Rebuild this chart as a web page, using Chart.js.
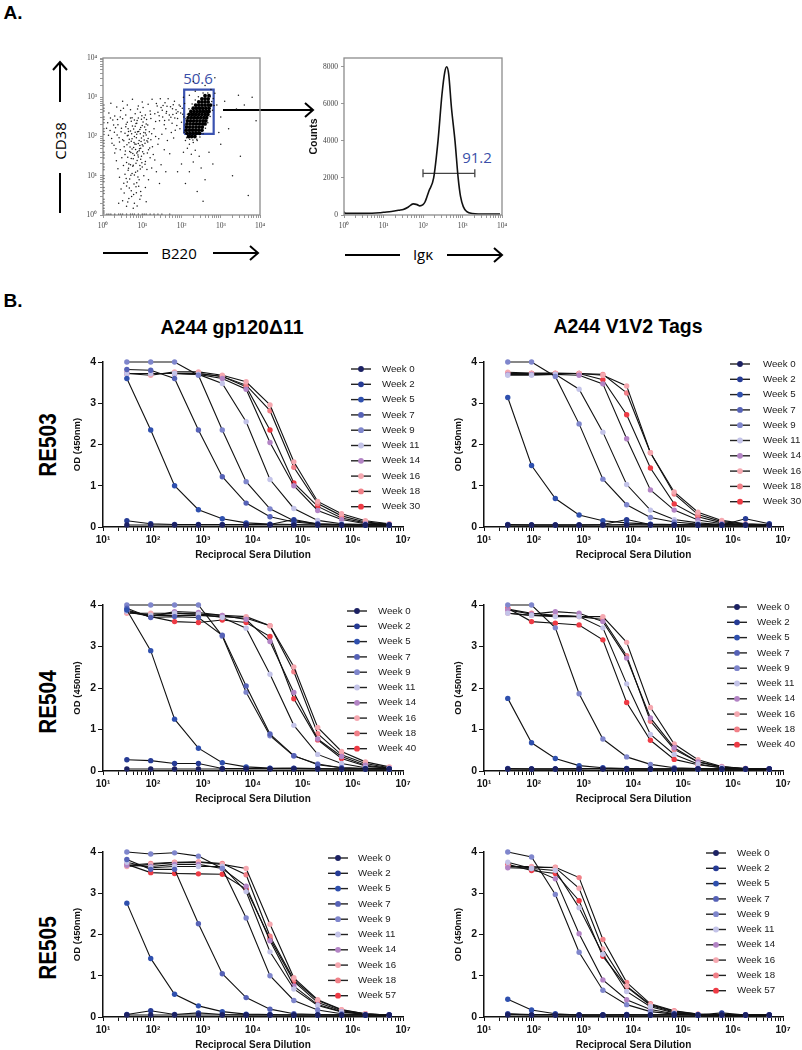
<!DOCTYPE html>
<html lang="en">
<head>
<meta charset="UTF-8" />
<title>Figure: B cell sorting and serum ELISA titers</title>
<script src="https://cdn.jsdelivr.net/npm/chart.js"></script>
<style>
  body { margin: 0; background: #fff; font-family: "Liberation Sans", Arial, sans-serif; }
  #page { position: relative; width: 802px; height: 1050px; overflow: hidden; }
  canvas { position: absolute; }
  .c { position: absolute; white-space: nowrap; transform: translate(-50%, -50%); line-height: 1; }
  .panel { font-weight: bold; font-size: 19px; }
  .title { font-weight: bold; font-size: 19.5px; }
  .row { font-weight: bold; font-size: 23px; transform: translate(-50%, -50%) rotate(-90deg) scaleX(0.9); }
  .axis { font-family: "Open Sans", "Liberation Sans", sans-serif; font-size: 15px; }
  .gate { font-family: "Open Sans", "Liberation Sans", sans-serif; font-size: 15px; color: #3a4fa8; }
  svg { position: absolute; left: 0; top: 0; }
</style>
</head>
<body>
<div id="page">
  <div class="c panel" style="left:13px;top:12px">A.</div>
  <div class="c panel" style="left:13px;top:300px">B.</div>

  <div class="c axis" style="left:60px;top:141px;transform:translate(-50%,-50%) rotate(-90deg)">CD38</div>
  <div class="c axis" style="left:179px;top:253px">B220</div>
  <div class="c axis" style="left:423px;top:254px">Igκ</div>
  <div class="c gate" style="left:198px;top:78px">50.6</div>
  <div class="c gate" style="left:477px;top:157px">91.2</div>

  <div class="c title" style="left:232px;top:328px">A244 gp120Δ11</div>
  <div class="c title" style="left:628px;top:327px">A244 V1V2 Tags</div>

  <div class="c row" style="left:48px;top:445px">RE503</div>
  <div class="c row" style="left:48px;top:702px">RE504</div>
  <div class="c row" style="left:48px;top:948px">RE505</div>

  <svg width="802" height="300" fill="none" stroke="#000" stroke-width="2">
    <path d="M60 102 V62 M53 70 L60 62 L67 70" />
    <path d="M60 173 V213" />
    <path d="M103 253 H148" />
    <path d="M213 253 H258 M250 246 L258 253 L250 260" />
    <path d="M223 110 H313 M305 103 L313 110 L305 117" />
    <path d="M345 255 H400" />
    <path d="M447 255 H502 M494 248 L502 255 L494 262" />
  </svg>

  <canvas id="flowDot"></canvas>
  <canvas id="flowHist"></canvas>
  <canvas id="c503g"></canvas>
  <canvas id="c503v"></canvas>
  <canvas id="c504g"></canvas>
  <canvas id="c504v"></canvas>
  <canvas id="c505g"></canvas>
  <canvas id="c505v"></canvas>
</div>

<script>
// ---------- panel A: flow cytometry (values in log10 units) ----------
// scattered events, [log10 B220, log10 CD38]
const dotLog = [
  [0.2,2.85],[0.5,2.9],[0.75,2.95],[1.0,2.88],[1.25,2.95],[0.35,2.75],[0.62,2.8],[0.9,2.78],[1.15,2.82],[1.38,2.78],
  [0.15,2.6],[0.3,2.52],[0.45,2.66],[0.58,2.55],[0.7,2.68],[0.82,2.58],[0.95,2.62],[1.08,2.55],[1.2,2.65],[1.32,2.58],[0.52,2.72],[0.88,2.7],[1.02,2.74],
  [0.12,2.35],[0.25,2.42],[0.38,2.3],[0.5,2.45],[0.62,2.36],[0.74,2.48],[0.86,2.34],[0.98,2.44],[1.1,2.32],[1.22,2.46],[1.34,2.38],[0.44,2.5],[0.8,2.42],[1.05,2.48],
  [0.18,2.15],[0.32,2.22],[0.46,2.12],[0.58,2.25],[0.7,2.14],[0.82,2.26],[0.94,2.18],[1.06,2.24],[1.18,2.12],[1.3,2.2],[0.64,2.2],[0.88,2.12],[1.0,2.28],
  [0.22,1.95],[0.36,2.04],[0.5,1.92],[0.62,2.02],[0.74,1.94],[0.86,2.06],[0.98,1.96],[1.1,2.04],[1.22,1.92],[0.56,2.08],[0.8,2.0],[0.92,1.9],[1.04,2.1],[1.34,2.0],
  [0.28,1.78],[0.42,1.86],[0.54,1.74],[0.66,1.84],[0.78,1.72],[0.9,1.82],[1.02,1.76],[1.14,1.86],[1.26,1.74],[0.72,1.88],[0.84,1.8],[0.96,1.7],[1.4,1.8],
  [0.3,1.58],[0.44,1.66],[0.56,1.54],[0.68,1.62],[0.8,1.52],[0.92,1.64],[1.04,1.56],[1.16,1.66],[1.28,1.54],[0.74,1.68],[0.86,1.58],[0.98,1.5],
  [0.34,1.38],[0.48,1.46],[0.6,1.34],[0.72,1.44],[0.84,1.32],[0.96,1.42],[1.08,1.36],[1.2,1.46],[0.66,1.3],[0.9,1.48],[1.32,1.4],
  [0.38,1.18],[0.52,1.26],[0.64,1.14],[0.76,1.24],[0.88,1.12],[1.0,1.22],[1.12,1.16],[0.7,1.28],[0.94,1.26],[1.24,1.2],
  [0.42,0.96],[0.56,1.04],[0.68,0.92],[0.8,1.02],[0.92,0.9],[1.04,1.0],[0.62,0.84],[0.86,0.82],[1.16,0.9],[0.74,1.06],
  [0.46,0.66],[0.6,0.74],[0.72,0.62],[0.84,0.72],[0.96,0.6],[0.78,0.52],[1.08,0.7],[0.54,0.56],
  [0.5,0.36],[0.66,0.42],[0.8,0.3],[0.94,0.4],[0.6,0.22],[1.1,0.34],[0.4,0.3],
  [0.63,1.47],[0.71,1.59],[0.77,1.43],[0.83,1.67],[0.89,1.53],[0.94,1.77],[1.01,1.61],[1.07,1.83],[1.13,1.58],[1.19,1.71],
  [0.61,1.79],[0.67,1.93],[0.73,2.07],[0.79,1.85],[0.85,1.97],[0.91,2.13],[0.97,1.87],[1.03,2.01],[1.09,2.17],[1.15,1.95],
  [0.59,2.31],[0.65,2.13],[0.72,2.39],[0.78,2.19],[0.84,2.33],[0.9,2.47],[0.96,2.23],[1.02,2.37],[1.08,2.09],[1.14,2.29],
  [0.57,1.63],[0.69,1.73],[0.81,1.81],[0.93,1.69],[1.05,1.91],[0.75,2.27],[0.87,2.41],[0.99,2.53],[1.11,2.43],[1.21,2.57],
  [0.53,1.89],[0.64,2.03],[0.76,1.57],[0.88,1.61],[1.0,1.79],[1.12,1.89],[1.24,2.07],[0.7,2.47],[0.82,2.11],[0.95,2.07],
  [0.47,2.21],[0.41,1.97],[0.37,2.43],[0.29,2.11],[0.23,1.83],[0.33,1.69],[0.27,2.29],[0.19,2.47],[0.14,2.03],[0.09,2.21],
  [0.99,1.33],[0.87,1.39],[0.77,1.27],[0.65,1.19],[0.83,1.09],[0.95,1.17],[1.07,1.29],[0.71,1.01],[0.59,0.93],[0.89,0.97],
  [0.79,0.79],[0.67,0.69],[0.91,0.73],[0.53,0.81],[0.85,0.57],[0.73,0.47],[0.97,0.49],[0.63,0.33],[0.77,0.17],[0.87,0.23],
  [1.4,2.62],[1.48,2.74],[1.52,2.5],[1.58,2.86],[1.62,2.64],[1.68,2.42],[1.72,2.76],[1.78,2.56],[1.82,2.9],[1.86,2.68],
  [1.9,2.46],[1.94,2.8],[1.98,2.6],[2.02,2.72],[2.06,2.5],[1.44,2.4],[1.56,2.3],[1.66,2.96],[1.76,2.34],[1.88,2.28],
  [2.0,2.36],[1.46,2.96],[1.36,2.84],[1.6,2.2],[1.74,2.1],[1.84,2.16],[1.96,2.2],[2.08,2.84],[1.5,2.06],[1.42,1.94],
  [1.64,1.9],[1.8,1.96],[1.56,1.66],[1.7,1.56],[1.48,1.28],[1.6,1.1],[1.36,1.1],[1.44,0.8],
  [1.43,2.53],[1.51,2.67],[1.57,2.41],[1.63,2.77],[1.69,2.55],[1.77,2.71],[1.83,2.47],[1.91,2.63],[1.97,2.77],[2.03,2.57],
  [1.61,2.59],[1.73,2.49],[1.87,2.59],[1.53,2.79],[1.79,2.81],
  [2.07,2.11],[2.09,2.29],[2.11,2.45],[2.15,2.57],[2.19,2.71],[2.27,2.83],[2.35,2.93],[2.43,3.01],[2.55,3.11],[2.67,3.11],
  [2.73,3.01],[2.77,2.89],[2.79,2.67],[2.73,2.51],[2.67,2.35],[2.61,2.21],[2.55,2.07],[2.47,1.99],[2.39,1.93],[2.29,1.91],
  [2.21,1.93],[2.13,1.97],[2.83,2.79],[2.81,2.97],
  [2.1,1.9],[2.2,1.8],[2.3,1.85],[2.15,1.7],[2.35,1.65],[2.25,1.55],[2.4,1.9],[2.05,1.6],[2.45,1.5],[2.3,1.35],
  [2.5,1.2],[2.2,1.1],[2.6,0.9],[2.4,0.6],[2.7,1.6],[2.8,1.3],[2.0,1.3],[1.9,1.1],[2.1,0.8],[2.55,0.35],
  [2.9,2.8],[3.0,2.5],[3.1,2.9],[3.2,2.2],[3.4,2.7],[3.6,2.8],[3.8,3.0],[3.5,1.5],[3.3,1.0],[3.7,0.5],
  [3.0,1.8],[2.85,3.1],[3.9,2.4],[3.45,3.05],[2.95,2.1],[2.2,3.05],[2.35,3.15],[2.45,3.6],[2.6,3.3],[2.75,3.2],
  [2.85,3.5],[2.3,3.4],[2.05,3.0],
  [0.02,0.1],[0.02,0.25],[0.02,0.4],[0.02,0.55],[0.02,0.7],[0.02,0.85],[0.02,1.0],[0.02,1.15],[0.02,1.3],[0.02,1.45],
  [0.02,1.6],[0.02,1.75],[0.02,1.9],[0.02,2.05],[0.02,2.2],[0.02,2.35],[0.02,2.5],[0.02,2.65],[0.02,2.8],[0.02,0.05],
  [0.02,0.17],[0.02,0.33],[0.02,0.62],[0.02,0.93],[0.02,1.22],[0.02,1.53],[0.02,1.83],[0.02,2.13],[0.02,2.43],[0.02,2.72],
  [0.1,0.02],[0.2,0.02],[0.3,0.02],[0.4,0.02],[0.5,0.02],[0.6,0.02],[0.7,0.02],[0.8,0.02],[0.9,0.02],[1.0,0.02],
  [1.1,0.02],[1.2,0.02],[1.3,0.02],[1.4,0.02],[1.5,0.02],[1.7,0.02],[0.15,0.02],[0.45,0.02],[0.75,0.02],[1.05,0.02]
];
// dense B220+ CD38+ population inside the gate
const blobLog = [
  [2.18,2.0],[2.26,2.0],[2.34,2.0],
  [2.14,2.08],[2.22,2.08],[2.3,2.08],[2.38,2.08],[2.46,2.08],
  [2.12,2.16],[2.2,2.16],[2.28,2.16],[2.36,2.16],[2.44,2.16],[2.52,2.16],
  [2.13,2.24],[2.21,2.24],[2.29,2.24],[2.37,2.24],[2.45,2.24],[2.53,2.24],
  [2.14,2.32],[2.22,2.32],[2.3,2.32],[2.38,2.32],[2.46,2.32],[2.54,2.32],[2.6,2.32],
  [2.15,2.4],[2.23,2.4],[2.31,2.4],[2.39,2.4],[2.47,2.4],[2.55,2.4],[2.62,2.4],
  [2.17,2.48],[2.25,2.48],[2.33,2.48],[2.41,2.48],[2.49,2.48],[2.57,2.48],[2.64,2.48],
  [2.2,2.56],[2.28,2.56],[2.36,2.56],[2.44,2.56],[2.52,2.56],[2.6,2.56],[2.67,2.56],
  [2.24,2.64],[2.32,2.64],[2.4,2.64],[2.48,2.64],[2.56,2.64],[2.64,2.64],[2.7,2.64],
  [2.3,2.72],[2.38,2.72],[2.46,2.72],[2.54,2.72],[2.62,2.72],[2.7,2.72],
  [2.36,2.8],[2.44,2.8],[2.52,2.8],[2.6,2.8],[2.68,2.8],[2.74,2.8],
  [2.44,2.88],[2.52,2.88],[2.6,2.88],[2.68,2.88],
  [2.52,2.96],[2.6,2.96],[2.68,2.96],
  [2.6,3.04],[2.7,3.04]
];
const gateB220 = [117, 660];
const gateCD38 = [117, 1560];

// Igk histogram: log10 Igk and counts
const histIgkLog = [0, 0.03, 0.5, 0.9, 1.0, 1.2, 1.4, 1.5, 1.62, 1.75, 1.85, 1.92, 2.0, 2.05, 2.15, 2.27, 2.38, 2.48, 2.55, 2.6, 2.65, 2.72, 2.81, 2.89, 2.95, 3.02, 3.1, 3.25, 3.6, 3.95];
const histCounts = [180, 90, 90, 120, 145, 190, 260, 300, 420, 600, 560, 490, 560, 700, 1300, 2000, 4000, 6500, 7700, 8000, 7600, 5800, 4000, 2000, 1000, 450, 200, 80, 50, 50];
const barIgk = [100, 2050];
const barCount = 2250;
const histTicks = [0, 2000, 4000, 6000, 8000];

// ---------- panel B: ELISA titration ----------
const dilutions = [30, 90, 270, 810, 2430, 7290, 21870, 65610, 196830, 590490, 1771470, 5314410];
const weekColors = ['#1c2163', '#263b95', '#2f50ae', '#5662b7', '#7f86cc', '#c3c3e8', '#b384c5', '#f5a8b0', '#f18088', '#ee3b45'];
const weeks503 = ['Week 0', 'Week 2', 'Week 5', 'Week 7', 'Week 9', 'Week 11', 'Week 14', 'Week 16', 'Week 18', 'Week 30'];
const weeks504 = ['Week 0', 'Week 2', 'Week 5', 'Week 7', 'Week 9', 'Week 11', 'Week 14', 'Week 16', 'Week 18', 'Week 40'];
const weeks505 = ['Week 0', 'Week 2', 'Week 5', 'Week 7', 'Week 9', 'Week 11', 'Week 14', 'Week 16', 'Week 18', 'Week 57'];

// OD (450nm), one row per week, one value per dilution
const re503Gp120 = [
  [0.05, 0.05, 0.05, 0.05, 0.05, 0.05, 0.05, 0.05, 0.05, 0.05, 0.05, 0.05],
  [0.15, 0.08, 0.06, 0.06, 0.06, 0.06, 0.06, 0.18, 0.07, 0.05, 0.05, 0.05],
  [3.6, 2.35, 1.0, 0.42, 0.2, 0.1, 0.07, 0.06, 0.05, 0.05, 0.05, 0.05],
  [3.82, 3.8, 3.6, 2.35, 1.22, 0.58, 0.25, 0.12, 0.07, 0.06, 0.05, 0.05],
  [4.0, 4.0, 4.0, 3.68, 2.35, 1.1, 0.44, 0.15, 0.08, 0.06, 0.05, 0.05],
  [3.72, 3.72, 3.72, 3.7, 3.48, 2.55, 1.15, 0.45, 0.16, 0.08, 0.06, 0.05],
  [3.72, 3.72, 3.72, 3.7, 3.6, 3.34, 2.05, 1.0, 0.4, 0.18, 0.08, 0.06],
  [3.72, 3.68, 3.76, 3.76, 3.68, 3.52, 2.96, 1.58, 0.62, 0.32, 0.15, 0.08],
  [3.72, 3.72, 3.72, 3.72, 3.65, 3.44, 2.82, 1.45, 0.57, 0.27, 0.12, 0.07],
  [3.72, 3.72, 3.72, 3.72, 3.65, 3.4, 2.35, 1.07, 0.5, 0.22, 0.1, 0.06]
];
const re503V1V2 = [
  [0.05, 0.05, 0.05, 0.05, 0.05, 0.05, 0.05, 0.05, 0.05, 0.05, 0.05, 0.05],
  [0.05, 0.05, 0.05, 0.05, 0.06, 0.18, 0.06, 0.05, 0.05, 0.05, 0.2, 0.08],
  [3.14, 1.49, 0.69, 0.29, 0.15, 0.1, 0.07, 0.06, 0.05, 0.05, 0.05, 0.05],
  [0.06, 0.05, 0.05, 0.05, 0.05, 0.06, 0.05, 0.05, 0.05, 0.05, 0.05, 0.05],
  [4.0, 4.0, 3.65, 2.5, 1.16, 0.54, 0.23, 0.12, 0.07, 0.05, 0.05, 0.05],
  [3.68, 3.68, 3.7, 3.34, 2.3, 1.03, 0.41, 0.18, 0.1, 0.06, 0.05, 0.05],
  [3.7, 3.7, 3.7, 3.68, 3.47, 2.14, 0.9, 0.41, 0.17, 0.08, 0.05, 0.05],
  [3.75, 3.73, 3.73, 3.72, 3.68, 3.42, 1.8, 0.85, 0.36, 0.16, 0.08, 0.06],
  [3.72, 3.72, 3.72, 3.72, 3.7, 3.25, 1.8, 0.8, 0.3, 0.13, 0.07, 0.05],
  [3.72, 3.72, 3.72, 3.72, 3.57, 2.72, 1.43, 0.56, 0.25, 0.1, 0.06, 0.05]
];
const re504Gp120 = [
  [0.05, 0.05, 0.05, 0.05, 0.05, 0.05, 0.05, 0.05, 0.05, 0.05, 0.05, 0.05],
  [0.27, 0.25, 0.18, 0.18, 0.06, 0.06, 0.06, 0.07, 0.06, 0.05, 0.05, 0.05],
  [3.88, 2.9, 1.25, 0.55, 0.2, 0.1, 0.07, 0.06, 0.05, 0.05, 0.05, 0.05],
  [3.92, 3.7, 3.72, 3.7, 3.27, 2.05, 0.89, 0.37, 0.15, 0.08, 0.06, 0.05],
  [4.0, 4.0, 4.0, 4.0, 3.25, 1.9, 0.85, 0.36, 0.17, 0.08, 0.06, 0.05],
  [3.85, 3.75, 3.8, 3.78, 3.7, 3.44, 2.33, 1.1, 0.4, 0.18, 0.08, 0.06],
  [3.85, 3.72, 3.84, 3.82, 3.75, 3.65, 3.12, 1.89, 0.77, 0.35, 0.14, 0.07],
  [3.8, 3.8, 3.8, 3.78, 3.75, 3.72, 3.5, 2.51, 1.05, 0.47, 0.22, 0.1],
  [3.82, 3.75, 3.75, 3.75, 3.72, 3.68, 3.5, 2.39, 0.9, 0.39, 0.18, 0.08],
  [3.88, 3.72, 3.6, 3.58, 3.64, 3.58, 3.24, 1.74, 0.75, 0.3, 0.12, 0.06]
];
const re504V1V2 = [
  [0.05, 0.05, 0.05, 0.05, 0.05, 0.05, 0.05, 0.05, 0.05, 0.05, 0.05, 0.05],
  [0.05, 0.05, 0.05, 0.06, 0.06, 0.05, 0.05, 0.05, 0.05, 0.05, 0.05, 0.05],
  [1.75, 0.68, 0.3, 0.13, 0.08, 0.06, 0.05, 0.05, 0.05, 0.05, 0.05, 0.05],
  [0.06, 0.05, 0.05, 0.05, 0.06, 0.05, 0.05, 0.05, 0.05, 0.05, 0.05, 0.05],
  [4.0, 4.0, 3.45, 1.86, 0.77, 0.34, 0.16, 0.08, 0.06, 0.05, 0.05, 0.05],
  [3.8, 3.75, 3.72, 3.72, 3.45, 2.1, 0.88, 0.4, 0.17, 0.08, 0.05, 0.05],
  [3.88, 3.78, 3.84, 3.8, 3.6, 2.72, 1.28, 0.56, 0.22, 0.1, 0.05, 0.05],
  [3.8, 3.75, 3.75, 3.72, 3.72, 3.1, 1.53, 0.65, 0.27, 0.11, 0.06, 0.05],
  [3.9, 3.8, 3.75, 3.72, 3.65, 2.78, 1.2, 0.52, 0.22, 0.1, 0.06, 0.05],
  [3.92, 3.6, 3.56, 3.52, 3.16, 1.65, 0.74, 0.28, 0.15, 0.08, 0.05, 0.05]
];
const re505Gp120 = [
  [0.05, 0.05, 0.05, 0.05, 0.05, 0.05, 0.05, 0.05, 0.05, 0.05, 0.05, 0.05],
  [0.06, 0.15, 0.06, 0.1, 0.06, 0.05, 0.05, 0.05, 0.05, 0.05, 0.05, 0.05],
  [2.76, 1.42, 0.55, 0.27, 0.13, 0.07, 0.06, 0.05, 0.05, 0.05, 0.05, 0.05],
  [3.82, 3.58, 3.58, 2.26, 1.05, 0.47, 0.19, 0.08, 0.06, 0.05, 0.05, 0.05],
  [4.0, 3.95, 3.98, 3.9, 3.6, 2.4, 1.0, 0.4, 0.17, 0.08, 0.05, 0.05],
  [3.75, 3.62, 3.65, 3.65, 3.65, 3.04, 1.58, 0.68, 0.28, 0.12, 0.06, 0.05],
  [3.68, 3.65, 3.7, 3.7, 3.6, 3.17, 1.85, 0.75, 0.3, 0.13, 0.06, 0.05],
  [3.65, 3.7, 3.74, 3.75, 3.7, 3.6, 2.25, 0.95, 0.42, 0.18, 0.08, 0.05],
  [3.68, 3.72, 3.75, 3.76, 3.72, 3.45, 1.96, 0.9, 0.4, 0.17, 0.08, 0.05],
  [3.7, 3.5, 3.48, 3.47, 3.46, 3.1, 1.9, 0.86, 0.35, 0.15, 0.07, 0.05]
];
const re505V1V2 = [
  [0.05, 0.05, 0.05, 0.05, 0.05, 0.05, 0.05, 0.05, 0.05, 0.05, 0.05, 0.05],
  [0.07, 0.05, 0.05, 0.05, 0.05, 0.06, 0.05, 0.08, 0.05, 0.1, 0.05, 0.05],
  [0.43, 0.17, 0.08, 0.05, 0.05, 0.05, 0.05, 0.05, 0.05, 0.05, 0.05, 0.05],
  [0.08, 0.06, 0.06, 0.05, 0.05, 0.05, 0.05, 0.05, 0.05, 0.05, 0.05, 0.05],
  [4.0, 3.88, 2.97, 1.57, 0.65, 0.3, 0.13, 0.07, 0.05, 0.05, 0.05, 0.05],
  [3.75, 3.6, 3.55, 2.65, 1.52, 0.62, 0.25, 0.1, 0.06, 0.05, 0.05, 0.05],
  [3.62, 3.6, 3.35, 2.02, 0.9, 0.42, 0.18, 0.08, 0.05, 0.05, 0.05, 0.05],
  [3.65, 3.65, 3.62, 3.12, 1.65, 0.75, 0.3, 0.14, 0.07, 0.05, 0.05, 0.05],
  [3.65, 3.62, 3.63, 3.38, 1.88, 0.84, 0.32, 0.15, 0.07, 0.05, 0.05, 0.05],
  [3.7, 3.55, 3.48, 2.82, 1.47, 0.73, 0.28, 0.12, 0.06, 0.05, 0.05, 0.05]
];

// ---------- helpers ----------
const SUP = ['⁰', '¹', '²', '³', '⁴', '⁵', '⁶', '⁷'];
function decadeTicks(lo, hi) {
  const t = [];
  for (let e = lo; e < hi; e++) for (let m = 1; m < 10; m++) t.push({ value: m * Math.pow(10, e) });
  t.push({ value: Math.pow(10, hi) });
  return t;
}
function powerLabel(v) {
  const e = Math.round(Math.log10(v));
  return Math.abs(v - Math.pow(10, e)) < 1e-6 * v ? '10' + SUP[e] : '';
}
function place(cv, left, top, w, h) {
  cv.width = w; cv.height = h;
  cv.style.left = left + 'px'; cv.style.top = top + 'px';
}

const frame = {
  id: 'frame',
  afterDraw(chart) {
    const { ctx, chartArea: a } = chart;
    ctx.save();
    ctx.strokeStyle = '#8c8c8c';
    ctx.lineWidth = 1.3;
    ctx.strokeRect(a.left, a.top, a.width, a.height);
    ctx.restore();
  }
};

const weekLegend = {
  id: 'weekLegend',
  afterDraw(chart, args, opts) {
    const { ctx, chartArea } = chart;
    ctx.save();
    ctx.font = '9.7px "Liberation Sans", Arial, sans-serif';
    ctx.textBaseline = 'middle';
    chart.data.datasets.forEach((ds, i) => {
      const y = chartArea.top + opts.top + i * 15.3;
      const cx = chartArea.right + opts.dx;
      ctx.strokeStyle = '#222';
      ctx.lineWidth = 1.4;
      ctx.beginPath(); ctx.moveTo(cx - 10, y); ctx.lineTo(cx + 10, y); ctx.stroke();
      ctx.fillStyle = ds.pointBackgroundColor;
      ctx.beginPath(); ctx.arc(cx, y, 2.9, 0, Math.PI * 2); ctx.fill();
      ctx.fillStyle = '#1a1a1a';
      ctx.fillText(ds.label, cx + opts.tx, y);
    });
    ctx.restore();
  }
};

const smallTick = { color: '#444', font: { family: '"Liberation Serif", serif', size: 7.5 } };

// ---------- flow dot plot ----------
(function () {
  const cv = document.getElementById('flowDot');
  place(cv, 71, 50, 201, 187);
  new Chart(cv, {
    type: 'scatter',
    data: {
      datasets: [
        { data: dotLog.map(p => ({ x: Math.pow(10, p[0]), y: Math.pow(10, p[1]) })),
          pointRadius: 0.75, pointBorderWidth: 0, pointBackgroundColor: '#1a1a1a' },
        { data: blobLog.map(p => ({ x: Math.pow(10, p[0]), y: Math.pow(10, p[1]) })),
          pointRadius: 1.9, pointBorderWidth: 0, pointBackgroundColor: '#000' },
        { data: [
            { x: gateB220[0], y: gateCD38[0] }, { x: gateB220[1], y: gateCD38[0] },
            { x: gateB220[1], y: gateCD38[1] }, { x: gateB220[0], y: gateCD38[1] },
            { x: gateB220[0], y: gateCD38[0] }],
          showLine: true, borderColor: '#3a52b0', borderWidth: 2.2, pointRadius: 0 }
      ]
    },
    options: {
      responsive: false, animation: false, events: [],
      layout: { padding: { left: 0, top: 8, right: 12, bottom: 0 } },
      plugins: { legend: { display: false }, tooltip: { enabled: false } },
      scales: {
        x: { type: 'logarithmic', min: 1, max: 1e4,
          afterBuildTicks: s => { s.ticks = decadeTicks(0, 4); },
          afterFit: s => { s.height = 22; },
          ticks: { ...smallTick, autoSkip: false, maxRotation: 0, padding: 4, callback: powerLabel },
          grid: { drawOnChartArea: false, tickLength: 3, tickColor: '#999' },
          border: { display: false } },
        y: { type: 'logarithmic', min: 1, max: 1e4,
          afterBuildTicks: s => { s.ticks = decadeTicks(0, 4); },
          afterFit: s => { s.width = 32; },
          ticks: { ...smallTick, autoSkip: false, padding: 3, callback: powerLabel },
          grid: { drawOnChartArea: false, tickLength: 3, tickColor: '#999' },
          border: { display: false } }
      }
    },
    plugins: [frame]
  });
})();

// ---------- flow histogram ----------
(function () {
  const cv = document.getElementById('flowHist');
  place(cv, 304, 50, 212, 187);
  new Chart(cv, {
    type: 'line',
    data: {
      datasets: [
        { data: histIgkLog.map((v, i) => ({ x: Math.pow(10, v), y: histCounts[i] })),
          borderColor: '#111', borderWidth: 1.6, pointRadius: 0, cubicInterpolationMode: 'monotone' },
        { data: [{ x: barIgk[0], y: barCount }, { x: barIgk[1], y: barCount }],
          borderColor: '#444', borderWidth: 1.3, pointStyle: 'line', rotation: 90,
          pointRadius: 4, pointBorderColor: '#444', pointBorderWidth: 1.3 }
      ]
    },
    options: {
      responsive: false, animation: false, events: [],
      layout: { padding: { left: 0, top: 8, right: 14, bottom: 0 } },
      plugins: { legend: { display: false }, tooltip: { enabled: false } },
      scales: {
        x: { type: 'logarithmic', min: 1, max: 1e4,
          afterBuildTicks: s => { s.ticks = decadeTicks(0, 4); },
          afterFit: s => { s.height = 22; },
          ticks: { ...smallTick, autoSkip: false, maxRotation: 0, padding: 4, callback: powerLabel },
          grid: { drawOnChartArea: false, tickLength: 3, tickColor: '#999' },
          border: { display: false } },
        y: { type: 'linear', min: 0, max: 8470,
          afterBuildTicks: s => { s.ticks = histTicks.map(v => ({ value: v })); },
          afterFit: s => { s.width = 40; },
          ticks: { ...smallTick, padding: 3, callback: v => String(v) },
          grid: { drawOnChartArea: false, tickLength: 3, tickColor: '#999' },
          border: { display: false },
          title: { display: true, text: 'Counts', color: '#111', padding: { top: 4, bottom: 0 },
            font: { family: '"Liberation Sans", Arial, sans-serif', size: 10.5, weight: 'bold' } } }
      }
    },
    plugins: [frame]
  });
})();

// ---------- ELISA charts ----------
const boldFont = size => ({ family: '"Liberation Sans", Arial, sans-serif', size, weight: 'bold' });

function odChart(id, box, series, labels, leg) {
  const T = 12, R = 40, YW = 45, XH = 40;
  const cv = document.getElementById(id);
  place(cv, box.x - YW, box.y - T, YW + box.w + R, T + box.h + XH);
  new Chart(cv, {
    type: 'line',
    data: {
      datasets: series.map((vals, i) => ({
        label: labels[i],
        data: vals.map((v, k) => ({ x: dilutions[k], y: v })),
        borderColor: '#111', borderWidth: 1.1,
        pointRadius: 2.7, pointBorderWidth: 0,
        pointBackgroundColor: weekColors[i], pointBorderColor: weekColors[i],
        clip: false
      }))
    },
    options: {
      responsive: false, animation: false, events: [],
      layout: { padding: { left: 0, top: T, right: R, bottom: 0 } },
      plugins: { legend: { display: false }, tooltip: { enabled: false }, weekLegend: leg },
      scales: {
        x: { type: 'logarithmic', min: 10, max: 1e7,
          afterBuildTicks: s => { s.ticks = decadeTicks(1, 7); },
          afterFit: s => { s.height = XH; },
          ticks: { color: '#111', font: boldFont(10), autoSkip: false, maxRotation: 0, padding: 3, callback: powerLabel },
          grid: { drawOnChartArea: false, tickLength: 4, tickColor: '#111' },
          border: { color: '#111', width: 1.5 },
          title: { display: true, text: 'Reciprocal Sera Dilution', color: '#111', font: boldFont(10),
            padding: { top: 0, bottom: 6 } } },
        y: { type: 'linear', min: 0, max: 4,
          afterFit: s => { s.width = YW; },
          ticks: { stepSize: 1, color: '#111', font: boldFont(10.5), padding: 2 },
          grid: { drawOnChartArea: false, tickLength: 5, tickColor: '#111' },
          border: { color: '#111', width: 1.5 },
          title: { display: true, text: 'OD (450nm)', color: '#111', font: boldFont(9.5),
            padding: { top: 14, bottom: 0 } } }
      }
    },
    plugins: [weekLegend]
  });
}

odChart('c503g', { x: 103, y: 362, w: 300, h: 165 }, re503Gp120, weeks503, { dx: -42, tx: 21, top: 7 });
odChart('c503v', { x: 484, y: 362, w: 299, h: 165 }, re503V1V2, weeks503, { dx: -43, tx: 23, top: 2 });
odChart('c504g', { x: 103, y: 605, w: 300, h: 166 }, re504Gp120, weeks504, { dx: -46, tx: 21, top: 6 });
odChart('c504v', { x: 484, y: 605, w: 299, h: 166 }, re504V1V2, weeks504, { dx: -46, tx: 20, top: 2 });
odChart('c505g', { x: 103, y: 852, w: 300, h: 165 }, re505Gp120, weeks505, { dx: -65, tx: 20, top: 6 });
odChart('c505v', { x: 484, y: 852, w: 299, h: 165 }, re505V1V2, weeks505, { dx: -67, tx: 21, top: 1 });
</script>
</body>
</html>
